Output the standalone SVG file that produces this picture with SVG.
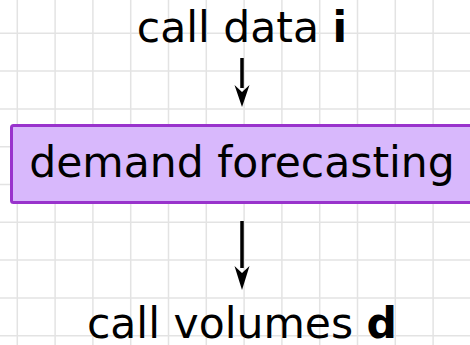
<svg xmlns="http://www.w3.org/2000/svg" width="470" height="345" viewBox="0 0 470 345">
  <defs>
    <style>
      .grid line { stroke: #e3e3e3; stroke-width: 1.5; }
      .lbl { font-family: "DejaVu Sans", sans-serif; font-size: 42.5px; fill: #000; text-anchor: middle; }
      .b { font-weight: bold; }
      .box { fill: #d8b8fc; stroke: #9933cc; stroke-width: 3; }
      .edge { stroke: #000; stroke-width: 3.5; fill: none; }
      .tip { fill: #000; }
    </style>
  </defs>

  <rect width="470" height="345" fill="#fff"/>

  <!-- background grid, 37.8 px pitch -->
  <g class="grid">
    <line x1="17.3" y1="0" x2="17.3" y2="345"/>
    <line x1="55.1" y1="0" x2="55.1" y2="345"/>
    <line x1="92.9" y1="0" x2="92.9" y2="345"/>
    <line x1="130.7" y1="0" x2="130.7" y2="345"/>
    <line x1="168.5" y1="0" x2="168.5" y2="345"/>
    <line x1="206.3" y1="0" x2="206.3" y2="345"/>
    <line x1="244.1" y1="0" x2="244.1" y2="345"/>
    <line x1="281.9" y1="0" x2="281.9" y2="345"/>
    <line x1="319.7" y1="0" x2="319.7" y2="345"/>
    <line x1="357.5" y1="0" x2="357.5" y2="345"/>
    <line x1="395.3" y1="0" x2="395.3" y2="345"/>
    <line x1="433.1" y1="0" x2="433.1" y2="345"/>
    <line x1="0" y1="33.3" x2="470" y2="33.3"/>
    <line x1="0" y1="71.1" x2="470" y2="71.1"/>
    <line x1="0" y1="108.9" x2="470" y2="108.9"/>
    <line x1="0" y1="146.7" x2="470" y2="146.7"/>
    <line x1="0" y1="184.5" x2="470" y2="184.5"/>
    <line x1="0" y1="222.3" x2="470" y2="222.3"/>
    <line x1="0" y1="260.1" x2="470" y2="260.1"/>
    <line x1="0" y1="297.9" x2="470" y2="297.9"/>
    <line x1="0" y1="335.7" x2="470" y2="335.7"/>
  </g>

  <g id="connectors">
    <path class="edge" d="M242 58V88"/>
    <path class="tip" d="M234.5 85L242 92L249.5 85L242 107Z"/>
    <path class="edge" d="M242 221V268"/>
    <path class="tip" d="M234.5 266L242 273L249.5 266L242 290Z"/>
  </g>

  <g id="input">
    <text class="lbl" x="242" y="42">call data <tspan class="b">i</tspan></text>
  </g>

  <g id="forecast">
    <rect class="box" x="11.5" y="125.5" width="470" height="77" rx="2"/>
    <text class="lbl" x="242" y="177">demand forecasting</text>
  </g>

  <g id="output">
    <text class="lbl" x="242" y="338">call volumes <tspan class="b">d</tspan></text>
  </g>
</svg>
